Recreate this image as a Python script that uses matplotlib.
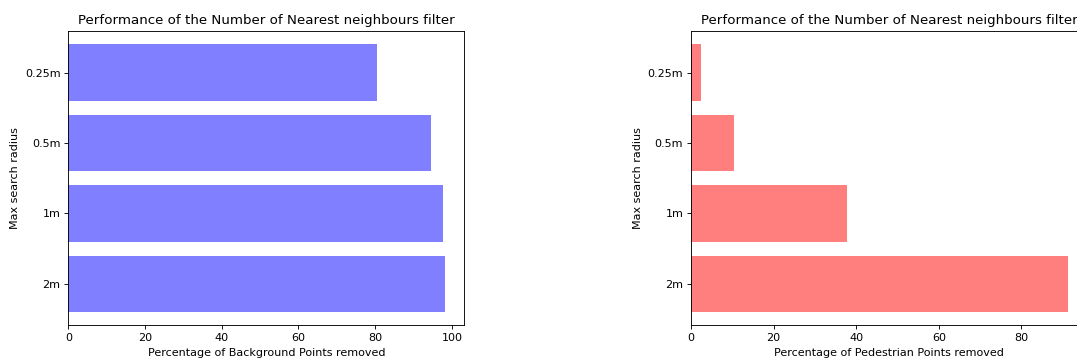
import matplotlib
matplotlib.use("Agg")
import matplotlib.pyplot as plt

radius = ["2m", "1m", "0.5m", "0.25m"]
background_removed = [98.3, 97.7, 94.6, 80.4]
pedestrian_removed = [91.3, 37.7, 10.4, 2.3]

# reference text is drawn at 80 dpi, so size the figure in those units
fig = plt.figure(figsize=(1077 / 80, 359 / 80), dpi=80)

# right panel runs past the figure edge, like the reference crop
ax1 = fig.add_axes([0.0634, 0.0939, 0.3677, 0.8197])
ax2 = fig.add_axes([0.6416, 0.0939, 0.3677, 0.8197])

ax1.barh(radius, background_removed, color="blue", alpha=0.5)
ax1.set_title("Performance of the Number of Nearest neighbours filter")
ax1.set_xlabel("Percentage of Background Points removed")
ax1.set_ylabel("Max search radius")

ax2.barh(radius, pedestrian_removed, color="red", alpha=0.5)
ax2.set_title("Performance of the Number of Nearest neighbours filter")
ax2.set_xlabel("Percentage of Pedestrian Points removed")
ax2.set_ylabel("Max search radius")

fig.savefig("out.png", dpi=80)
